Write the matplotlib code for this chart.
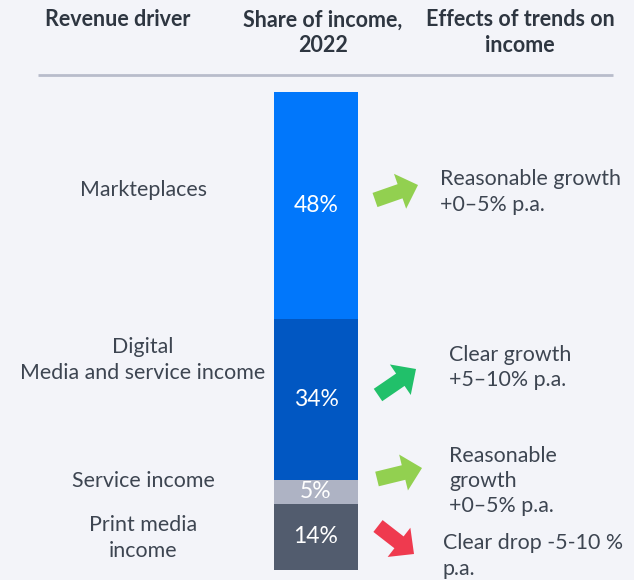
import matplotlib
matplotlib.use("Agg")
import matplotlib.pyplot as plt
from matplotlib.patches import FancyArrow

# ---- data ----
drivers = ["Markteplaces", "Digital\nMedia and service income", "Service income", "Print media\nincome"]
shares = [48, 34, 5, 14]
share_labels = ["48%", "34%", "5%", "14%"]
trends = ["Reasonable growth\n+0–5% p.a.", "Clear growth\n+5–10% p.a.",
          "Reasonable\ngrowth\n+0–5% p.a.", "Clear drop -5-10 %\np.a."]
trend_dir = ["up", "up", "up", "down"]
headers = [["Revenue driver"], ["Share of income,", "2022"], ["Effects of trends on", "income"]]

# ---- styles ----
BG = "#f3f4f9"
bar_colors = ["#0177fb", "#0157c2", "#aeb3c4", "#525c6e"]
arrow_colors = ["#92d050", "#21c06a", "#92d050", "#ef3a4f"]
TXT = "#3d4551"
HDR = "#2e3641"
FONT = "Lato"
FS = 15.4
LS = 1.33

W, H = 634, 580
fig = plt.figure(figsize=(W / 100, H / 100), dpi=100, facecolor=BG)
ax0 = fig.add_axes([0, 0, 1, 1])
ax0.set_xlim(0, W)
ax0.set_ylim(H, 0)
ax0.axis("off")
ax0.set_facecolor(BG)

# headers
hdr_x = [118, 323, 520]
for x, lines in zip(hdr_x, headers):
    for i, t in enumerate(lines):
        ax0.text(x, 20 + 25 * i, t, ha="center", va="center", fontsize=15.5,
                 fontweight="bold", color=HDR, family=FONT)
ax0.plot([38, 613], [75, 75], color="#b8bccb", lw=2, solid_capstyle="butt")

# stacked bar
bar_top, bar_bot = 92, 570
bx0, bw = 274, 84
axb = fig.add_axes([bx0 / W, (H - bar_bot) / H, bw / W, (bar_bot - bar_top) / H])
axb.axis("off")
total = sum(shares)
axb.set_xlim(-0.5, 0.5)
axb.set_ylim(total, 0)
bottom = 0
for v, c, lab in zip(shares, bar_colors, share_labels):
    axb.bar(0, v, bottom=bottom, width=1.0, color=c, linewidth=0)
    mid = bottom + v / 2
    axb.text(0, mid, lab, ha="center", va="center", color="white", fontsize=16.5, family=FONT)
    bottom += v

# left labels (block centers)
left_pos = [(143, 190), (143, 360), (143, 481), (143, 538)]
for (x, y), t in zip(left_pos, drivers):
    ax0.text(x, y, t, ha="center", va="center", fontsize=FS, color=TXT, family=FONT,
             linespacing=LS)

# arrows (tail center, tip)
arrows = [((375, 200), (418, 185)),
          ((378, 395), (416, 369)),
          ((377, 479), (422, 468)),
          ((378, 526), (414, 554))]
for (t, p), c in zip(arrows, arrow_colors):
    dx, dy = p[0] - t[0], p[1] - t[1]
    ax0.add_patch(FancyArrow(t[0], t[1], dx, dy, width=15, head_width=37, head_length=19,
                             length_includes_head=True, color=c, lw=0))

# right texts (left x, block center y)
right_pos = [(440, 192), (449, 367.5), (449, 481), (443, 556)]
for (x, y), t in zip(right_pos, trends):
    ax0.text(x, y, t, ha="left", va="center", fontsize=FS, color=TXT, family=FONT,
             linespacing=LS)

fig.savefig("out.png", dpi=100, facecolor=BG)
